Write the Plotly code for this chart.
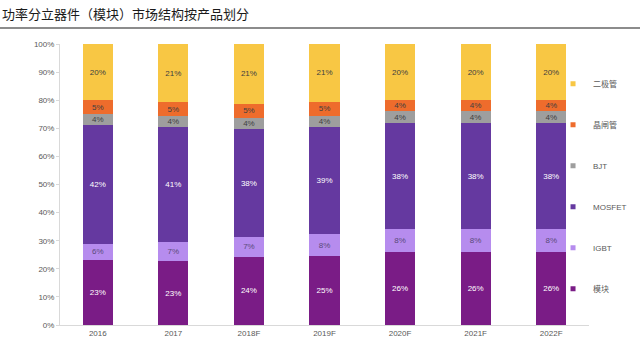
import plotly.graph_objects as go

years = ["2016", "2017", "2018F", "2019F", "2020F", "2021F", "2022F"]
series_names = ["模块", "IGBT", "MOSFET", "BJT", "晶闸管", "二极管"]
mokuai = [23, 23, 24, 25, 26, 26, 26]
igbt = [6, 7, 7, 8, 8, 8, 8]
mosfet = [42, 41, 38, 39, 38, 38, 38]
bjt = [4, 4, 4, 4, 4, 4, 4]
jingzhaguan = [5, 5, 5, 5, 4, 4, 4]
erjiguan = [20, 21, 21, 21, 20, 20, 20]
y_ticks = [0, 10, 20, 30, 40, 50, 60, 70, 80, 90, 100]

values = [mokuai, igbt, mosfet, bjt, jingzhaguan, erjiguan]
colors = ["#7A1C86", "#B68CEE", "#6539A0", "#9E9E9E", "#EE6C2C", "#F8C744"]
text_colors = ["#FFFFFF", "#5A4A7A", "#FFFFFF", "#404040", "#404040", "#404040"]

fig = go.Figure()
for name, vals, col, tcol in zip(series_names, values, colors, text_colors):
    fig.add_trace(go.Bar(
        x=years, y=vals, name=name, marker=dict(color=col, line=dict(width=0)),
        text=[f"{v}%" for v in vals], textposition="inside", insidetextanchor="middle",
        constraintext="none",
        textfont=dict(size=8, color=tcol, family="Arial, Liberation Sans"),
        showlegend=False, hoverinfo="skip",
    ))

# legend entries (small square markers), top to bottom
for i, (name, col) in enumerate(zip(series_names[::-1], colors[::-1])):
    fig.add_trace(go.Scatter(
        x=[None], y=[None], mode="markers", name=name, legendgroup=f"g{i}",
        marker=dict(symbol="square", size=5, color=col), showlegend=True,
    ))

fig.update_layout(
    width=640, height=345,
    margin=dict(l=60, r=51, t=44, b=20, autoexpand=False),
    barmode="stack", barnorm="percent", bargap=0.6,
    plot_bgcolor="white", paper_bgcolor="white",
    font=dict(family="Arial, Liberation Sans, Noto Sans CJK SC", size=8, color="#595959"),
    showlegend=True,
    legend=dict(
        x=0.932, xanchor="left", y=0.91, yanchor="top",
        traceorder="grouped", tracegroupgap=22,
        font=dict(size=8, color="#595959", family="Arial, Liberation Sans, Noto Sans CJK SC"),
        bgcolor="rgba(0,0,0,0)", itemwidth=30,
    ),
    xaxis=dict(
        showline=True, linecolor="#D9D9D9", linewidth=1, ticks="",
        tickfont=dict(size=8, color="#595959"), showgrid=False,
    ),
    yaxis=dict(
        range=[0, 100], tickvals=y_ticks, ticktext=[f"{t}%" for t in y_ticks],
        showline=True, linecolor="#D9D9D9", linewidth=1, ticks="outside",
        ticklen=3, tickcolor="#D9D9D9", showgrid=False, zeroline=False,
        tickfont=dict(size=8, color="#595959"),
    ),
)

fig.add_annotation(
    text="功率分立器件（模块）市场结构按产品划分", xref="paper", yref="paper",
    x=-60 / 529, y=1 + 31 / 281, xanchor="left", yanchor="middle", showarrow=False,
    font=dict(size=13, color="#1a1a1a", family="Noto Sans CJK SC"),
)
fig.add_shape(
    type="line", xref="paper", yref="paper",
    x0=-60 / 529, x1=1 + 51 / 529, y0=1 + 16 / 281, y1=1 + 16 / 281,
    line=dict(color="#8C8C8C", width=2),
)

fig.write_html("out.html")
